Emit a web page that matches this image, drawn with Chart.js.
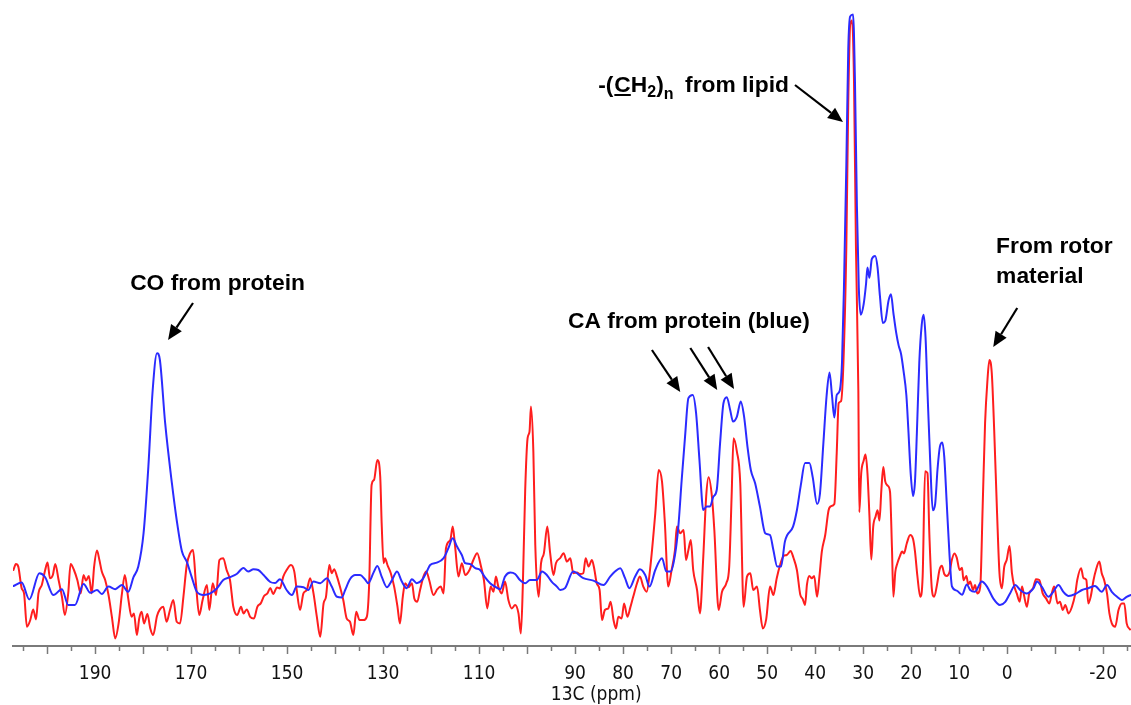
<!DOCTYPE html>
<html>
<head>
<meta charset="utf-8">
<script src="https://cdn.jsdelivr.net/npm/chart.js@4.4.1/dist/chart.umd.min.js"></script>
<style>
html,body{margin:0;padding:0;background:#ffffff;}
#wrap{width:1131px;height:705px;position:relative;}
</style>
</head>
<body>
<div id="wrap"><canvas id="c" width="1131" height="705"></canvas></div>
<script>
// 13C chemical shift (ppm) and intensity (arbitrary units) of the blue spectrum
const blueShift = [207.0,205.3,203.7,201.6,200.4,198.7,196.9,195.6,194.2,192.4,
191.0,189.6,188.6,187.2,185.8,184.4,183.1,182.0,181.0,179.9,
178.9,178.0,177.1,176.5,175.4,174.0,173.0,171.9,170.9,169.9,
168.8,167.4,166.0,164.6,163.3,161.9,160.5,159.1,158.1,157.0,
156.0,154.9,153.5,152.5,151.5,150.1,149.0,148.0,146.6,145.6,
144.5,143.1,141.7,140.7,139.6,138.6,137.9,136.9,135.8,134.8,
133.8,133.1,132.0,131.2,130.3,129.2,128.2,127.1,126.1,125.1,
124.0,123.0,121.9,120.9,120.2,118.8,117.4,116.4,115.5,114.6,
113.6,112.9,111.9,110.8,109.8,108.8,107.7,106.7,105.6,104.6,
103.5,102.5,101.5,100.4,99.4,98.0,96.9,95.9,94.9,93.8,
93.1,92.1,90.4,88.3,86.2,84.1,82.7,81.7,80.6,79.6,
78.7,77.5,76.5,75.4,74.5,73.3,71.9,71.0,70.1,69.2,
68.5,67.8,67.1,66.4,65.5,64.8,64.1,63.3,62.6,61.9,
61.2,60.5,59.8,59.1,58.4,57.7,57.1,56.3,55.5,54.8,
54.1,53.4,52.5,51.5,50.4,49.4,48.7,47.9,47.1,46.3,
45.8,44.6,43.8,43.0,42.1,41.2,40.5,39.6,39.0,38.3,
37.6,37.0,36.5,36.0,35.5,34.9,34.4,34.0,33.5,33.1,
32.7,32.1,31.7,31.3,30.9,30.5,29.9,29.4,29.1,28.7,
28.2,27.5,27.0,26.5,25.9,25.4,24.7,24.2,23.7,23.1,
22.6,22.1,21.6,21.0,20.6,20.1,19.6,19.2,18.8,18.3,
17.8,17.4,17.0,16.6,16.0,15.5,15.0,14.5,14.0,13.5,
13.1,12.6,12.0,11.5,10.5,9.4,8.4,7.7,6.7,5.3,
4.2,2.9,1.5,0.4,-0.6,-1.7,-2.7,-4.1,-5.5,-6.2,
-7.2,-8.6,-9.6,-10.7,-11.7,-12.8,-14.2,-15.6,-16.9,-18.3,
-19.7,-20.8,-21.8,-22.9,-23.9,-24.9,-25.8];
const blueInt = [2,3.7,-4.7,8.4,6.4,-2.5,0.4,-7.5,-7.5,3,
-1.4,0,-2,1.7,0.4,2.5,-0.9,6.4,11.7,28.4,
61.7,100,118.4,115,83.4,53.4,35,19.2,14.2,6.7,
-0.9,-2.5,-1.7,0.9,5,6.4,8,11,9.2,10.4,
10,7.5,4,3.5,5.4,0,-2.5,1.7,1.4,0,
4.2,3.4,5.9,1.7,-3.4,-3.7,0,5.4,7.5,7.5,
5.4,3.4,8.7,12,6.7,1.4,4.7,9.2,4.2,0.9,
5.4,3.4,5,9.2,12.5,13.7,15.9,20.9,25.9,21.7,
17.5,13.4,13,10.9,10,6.4,3.4,1.7,0.4,6.7,
8.7,8,5,3.4,5,5,9.2,7.5,4.2,1.7,
0,0.9,9.2,5.9,4.7,2.5,6.7,9.2,10.9,5.9,
0.9,6.7,10.4,7.5,1.7,10,15.9,9.2,9.2,17.5,
31.7,55,76.7,95.9,97.5,88.4,65,40,41.7,41.7,
46.7,50,73.4,93.4,96.4,90,84.2,86.7,94.2,86.7,
71.7,60,53.4,41.7,28.4,27.5,20,11.7,11.7,24.2,
27.5,31.7,39.9,52.2,63.5,63.5,56.3,43,48.1,72.8,
97.5,108.8,97.5,86.2,97.5,99.5,114,151,212.7,270.3,
286.8,287.8,253.9,192.1,151,137.6,142.8,153,161.3,156.1,
165.4,167,161.3,146.9,133.5,134.5,144.8,147.9,138.6,128.4,
122.2,118,109.8,97.5,81,58.4,47,54.3,79,114,
132.5,137.6,126.3,99.5,62.5,39.9,43,60.5,71.8,73.8,
66.6,44,17.2,1.8,-0.3,-2.4,2.8,0,-0.9,4.2,
1.7,-4.2,-7.5,-5.9,-1.7,2.5,0,-1.7,0.9,4.2,
1.7,-3.4,-0.9,2.5,-0.9,-3,-2,0,0.9,2,
-0.9,2.5,-0.9,-3.4,-5,-3.4,-2.5];

// 13C chemical shift (ppm) and intensity (arbitrary units) of the red spectrum
const redShift = [207.0,206.5,206.0,205.3,204.8,204.2,203.5,202.9,202.3,201.8,
201.1,200.4,199.9,199.4,198.8,198.3,197.6,196.9,196.3,195.6,
195.1,194.4,193.7,193.0,192.4,191.9,191.3,190.7,190.2,189.6,
189.1,188.6,187.9,187.2,186.5,185.8,185.1,184.4,183.8,183.1,
182.4,181.9,181.3,180.8,180.3,179.8,179.1,178.5,177.9,177.1,
176.5,175.8,175.1,174.4,173.7,173.0,172.3,171.6,170.9,170.2,
169.6,169.0,168.3,167.6,166.7,166.2,165.5,164.8,164.1,163.3,
162.6,161.9,161.2,160.4,159.6,159.1,158.4,157.7,156.9,156.2,
155.5,154.8,154.1,153.5,152.9,152.1,151.5,150.8,150.1,149.2,
148.5,148.0,147.3,146.6,145.9,145.2,144.5,143.8,143.1,142.4,
141.9,141.2,140.7,140.2,139.6,139.0,138.3,137.6,136.9,136.2,
135.6,134.9,134.1,133.4,132.9,132.4,131.9,131.2,130.6,130.3,
129.9,129.6,129.1,128.4,127.7,127.0,126.5,125.9,125.4,124.7,
124.0,123.5,122.9,122.3,121.6,121.0,120.4,119.5,118.7,118.0,
117.4,116.9,116.0,115.5,115.0,114.3,113.6,112.9,112.0,111.2,
110.4,109.6,109.0,108.3,107.6,107.0,106.5,106.0,105.3,104.6,
103.9,103.2,102.5,101.8,101.3,100.9,100.4,99.9,99.5,99.2,
98.7,98.3,97.6,97.1,96.5,95.8,95.2,94.5,94.0,93.1,
92.4,91.7,91.0,90.4,89.6,89.0,88.3,87.8,87.2,86.5,
86.0,85.5,84.9,84.4,83.8,83.1,82.6,82.0,81.5,81.0,
80.3,79.8,79.1,78.5,77.9,77.1,76.5,75.8,75.1,74.4,
73.3,72.6,71.9,71.3,70.6,69.9,69.2,68.8,68.1,67.4,
66.9,66.4,65.9,65.4,64.6,64.0,63.3,62.7,62.2,61.5,
61.0,60.1,59.4,58.5,57.9,57.4,57.0,56.3,55.6,54.9,
54.2,53.5,52.9,52.1,51.5,50.9,50.2,49.4,48.7,48.0,
47.3,46.6,45.9,45.1,44.5,43.8,43.1,42.6,42.1,41.7,
41.2,40.7,40.2,39.6,39.1,38.6,37.9,37.2,36.7,36.0,
35.5,35.1,34.6,34.1,33.5,33.1,32.7,32.3,31.9,31.5,
31.0,30.8,30.4,29.9,29.5,29.1,28.7,28.3,27.9,27.4,
27.0,26.6,26.2,25.8,25.4,24.9,24.4,24.0,23.7,23.3,
22.9,22.3,21.9,21.5,20.9,20.2,19.6,19.2,18.7,18.1,
17.6,17.1,16.6,16.2,15.7,15.2,14.6,14.1,13.6,13.1,
12.6,12.0,11.5,11.0,10.5,9.9,9.4,9.1,8.5,8.1,
7.7,7.1,6.7,6.2,5.6,5.1,4.6,4.1,3.7,3.2,
2.7,2.1,1.6,1.1,0.6,0.1,-0.5,-1.0,-1.5,-2.0,
-2.6,-3.1,-3.5,-4.1,-4.6,-5.4,-6.0,-6.7,-7.4,-8.1,
-8.8,-9.3,-9.8,-10.5,-11.0,-11.6,-12.1,-12.8,-13.5,-14.2,
-14.6,-15.4,-15.9,-16.5,-16.9,-17.4,-18.0,-18.5,-19.2,-19.7,
-20.2,-20.8,-21.3,-21.8,-22.5,-23.2,-23.9,-24.4,-24.9,-25.6];
const redInt = [10,13,11.7,0.9,-1.7,-18.4,-15,-9.7,-14.7,-1.7,
2.5,10,13.7,5.9,7.5,13,5,-3.4,-12.5,-1.7,
13,10,5,-1.7,7.5,4.7,7,-1.7,11.7,19.7,
15,9.2,5,-2.5,-13.4,-24.2,-16.7,-1.7,7.5,-4.2,
-13.4,-11.7,-22.5,-14.2,-10.9,-16.7,-12,-19.2,-22.5,-13,
-9.7,-8.4,-15.9,-10,-5,-15.9,-16.7,-3.4,12.5,18.4,
20,3.4,-12.5,-5,2.5,-10,3.4,-2.5,15,15.9,
10,5,-8.4,-12.5,-8.4,-11.7,-9.7,-13.4,-14.2,-8.4,
-6.7,-3,-1.7,1,-2,1.3,0.8,6.7,10,12.5,
9.2,0,-10,-1.7,0,5.9,-1.7,-13.4,-23.4,-6.7,
-3.4,12.5,8.4,10.4,6.7,1.7,-5,-14.2,-15.9,-22.5,
-10.9,-15,-15,-13.4,3.4,52.5,55,65,56.7,33.4,
13.4,15.9,12.5,8.4,1.7,-8.4,-16.7,-3.4,3.4,1.4,
3.4,-4.2,-5.9,0,6.7,9.2,5,-2.5,0.4,1.7,
-1.7,20.9,25,31.7,21.7,6.7,13.4,7.5,10,15,
18.4,11.7,5,-9.2,1.7,-0.9,6.7,1.7,-1.7,4.2,
-5,-9.2,-7.5,-11.7,-21.7,1.7,50,75.9,79.2,91.7,
69.2,22.5,-3.4,13.4,18.4,31.7,18.4,7.5,13.4,16,
18.4,14.2,15.9,8.4,8.7,8,8.4,15.9,11.7,15,
10.4,3.4,0,-15,-10,-9.2,-5.9,-15,-19.2,-13.4,
-14.2,-6.7,-13.4,-8.7,-3.4,3.4,6.7,1.7,-0.9,10,
38.4,60,54.2,33.4,1.7,10,20,31.7,28.4,30,
15,20,25,10,0,-11.7,16.7,46.7,56.4,46.7,
30,-10,-0.9,3.4,11.7,46.7,75.9,69.2,53.4,-8.4,
6.7,8.4,0,1.7,-10,-19.2,-14.7,1.7,-2.5,5.9,
12.5,17,17.5,19.5,16,10,-2.3,-4.4,-7.5,2.8,
7,5.9,7,-3.4,7,19.3,27.5,39.9,41.9,43,
68.7,93.4,94.4,114,171.6,243.6,282.7,284.7,253.9,171.6,
99.6,38.9,58.4,64.6,67.7,58.4,37.8,15.2,31.7,36.8,
39.9,34.7,50.2,61.5,54.3,52.2,49.1,21.4,-3.4,9,
13.1,17.2,19.3,18.3,23.4,27.5,25.5,19.3,7,-3.4,
7,59.4,58.4,27.5,0.8,-3.4,2.8,10,12.1,8,
7,9,15.2,18.3,16.2,10,11.1,4.9,7,2.8,
4.2,0,2.5,-1.7,1.7,41.7,83.4,105,115,108.4,
80,38.4,8.4,0.9,11.7,15,22,8.4,1.7,-1.7,
-5.9,1.7,-2.5,-8.4,-1.7,0.9,5.4,5,-1.7,-4.2,
-6.7,-1.7,1.7,-6.7,-5.9,-10,-7.5,-11.7,-8.4,-1.7,
5,10.9,5.9,5,-6.7,-3.4,5,10,14.2,8.4,
5,-1.7,-11.7,-16.7,-18.4,-10,-6.7,-6.7,-16.7,-19.7];

// labelled ticks of the ppm axis
const tickLabels = [190,170,150,130,110,90,80,70,60,50,40,30,20,10,0,-20];
const axisTitle = '13C (ppm)';

// annotation texts, anchored in (ppm, intensity) coordinates
const notes = [
  {text:'CO from protein', ppm:182.7, v:150},
  {text:'CA from protein (blue)', ppm:91.5, v:131},
  {text:'From rotor', ppm:2.3, v:168.5},
  {text:'material', ppm:2.3, v:153.5}
];
const lipidNote = {ppm:85.2, v:249, restPpm:67.1};
// arrows: [ppm tail, int tail, ppm tip, int tip]
const arrows = [
  [169.6,143.5,174.8,125],
  [44.2,252.5,34.2,234],
  [74.0,120,68.1,99],
  [66.0,121,60.4,100],
  [62.3,121.5,56.9,100.5],
  [-2.1,141,2.9,121.5]
];

const blueData = blueShift.map((p,i)=>({x:p, y:blueInt[i]}));
const redData = redShift.map((p,i)=>({x:p, y:redInt[i]}));

const TICK_FONT = '"DejaVu Sans Condensed","DejaVu Sans",sans-serif';
const NOTE_FONT = '"Liberation Sans", Arial, sans-serif';
const AXIS_GRAY = '#7a7a7a';

function drawArrow(ctx, x1, y1, x2, y2){
  const ang = Math.atan2(y2-y1, x2-x1), L = 15, W = 6.5;
  const bx = x2 - L*Math.cos(ang), by = y2 - L*Math.sin(ang);
  ctx.beginPath(); ctx.moveTo(x1,y1); ctx.lineTo(bx,by);
  ctx.lineWidth = 2.2; ctx.strokeStyle = '#000'; ctx.stroke();
  ctx.beginPath(); ctx.moveTo(x2,y2);
  ctx.lineTo(bx + W*Math.sin(ang), by - W*Math.cos(ang));
  ctx.lineTo(bx - W*Math.sin(ang), by + W*Math.cos(ang));
  ctx.closePath(); ctx.fillStyle = '#000'; ctx.fill();
}

const annot = {
  id: 'annot',
  afterDraw(chart){
    const {ctx, scales:{x, y}, chartArea} = chart;
    const X = p => x.getPixelForValue(p), Y = v => y.getPixelForValue(v);
    ctx.save();
    // minor ticks (every 5 ppm between the 10 ppm ticks)
    ctx.strokeStyle = AXIS_GRAY; ctx.lineWidth = 1.5;
    for (let t = -25; t <= 205; t += 10){
      const px = Math.round(X(t)) + 0.5;
      ctx.beginPath(); ctx.moveTo(px, chartArea.bottom); ctx.lineTo(px, chartArea.bottom + 5); ctx.stroke();
    }
    // axis title
    ctx.fillStyle = '#111';
    ctx.font = '19px ' + TICK_FONT;
    ctx.textAlign = 'center'; ctx.textBaseline = 'alphabetic';
    ctx.fillText(axisTitle, X(85.6), chartArea.bottom + 54);
    // notes
    ctx.textAlign = 'left';
    ctx.fillStyle = '#000';
    const big = 'bold 22.8px ' + NOTE_FONT, small = 'bold 16px ' + NOTE_FONT;
    ctx.font = big;
    notes.forEach(n => ctx.fillText(n.text, X(n.ppm), Y(n.v)));
    // -(CH2)n from lipid
    let lx = X(lipidNote.ppm); const ly = Y(lipidNote.v);
    ctx.font = big; ctx.fillText('-(', lx, ly); lx += ctx.measureText('-(').width + 1;
    const cw = ctx.measureText('C').width;
    ctx.fillText('C', lx, ly); ctx.fillRect(lx, ly + 2, cw, 2); lx += cw;
    ctx.fillText('H', lx, ly); lx += ctx.measureText('H').width;
    ctx.font = small; ctx.fillText('2', lx, ly + 5); lx += ctx.measureText('2').width;
    ctx.font = big; ctx.fillText(')', lx, ly); lx += ctx.measureText(')').width;
    ctx.font = small; ctx.fillText('n', lx, ly + 7);
    ctx.font = big; ctx.fillText('from lipid', X(lipidNote.restPpm), ly);
    // arrows
    arrows.forEach(a => drawArrow(ctx, X(a[0]), Y(a[1]), X(a[2]), Y(a[3])));
    ctx.restore();
  }
};

new Chart(document.getElementById('c').getContext('2d'), {
  type: 'line',
  data: {
    datasets: [
      {label:'blue', data: blueData, borderColor:'#2b2bff', borderWidth:2, pointRadius:0,
       cubicInterpolationMode:'monotone', borderJoinStyle:'round', borderCapStyle:'round', fill:false, order:0},
      {label:'red', data: redData, borderColor:'#ff1e1e', borderWidth:2, pointRadius:0,
       cubicInterpolationMode:'monotone', borderJoinStyle:'round', borderCapStyle:'round', fill:false, order:1}
    ]
  },
  options: {
    responsive: false,
    animation: false,
    devicePixelRatio: 1,
    layout: {padding: {left: 13, right: 0, top: 6, bottom: 0}},
    plugins: {legend: {display: false}, tooltip: {enabled: false}},
    scales: {
      x: {
        type: 'linear', reverse: true, min: -25.8, max: 207.1,
        afterFit: s => { s.height = 59; s.paddingLeft = 0; s.paddingRight = 0; },
        border: {display: true, color: AXIS_GRAY, width: 2},
        grid: {display: true, drawOnChartArea: false, drawTicks: true, tickLength: 8, tickWidth: 1.5,
               tickColor: c => (c.tick && Math.abs(Math.round(c.tick.value) % 10) === 0) ? AXIS_GRAY : 'rgba(0,0,0,0)'},
        ticks: {
          stepSize: 5, autoSkip: false, maxRotation: 0, minRotation: 0, includeBounds: false,
          padding: 9, color: '#111', font: {family: TICK_FONT, size: 19},
          callback: v => { const r = Math.round(v); return (Math.abs(v - r) < 1e-6 && tickLabels.includes(r)) ? String(r) : ''; }
        }
      },
      y: {type: 'linear', display: false, min: -28, max: 292}
    }
  },
  plugins: [annot]
});
</script>
</body>
</html>
